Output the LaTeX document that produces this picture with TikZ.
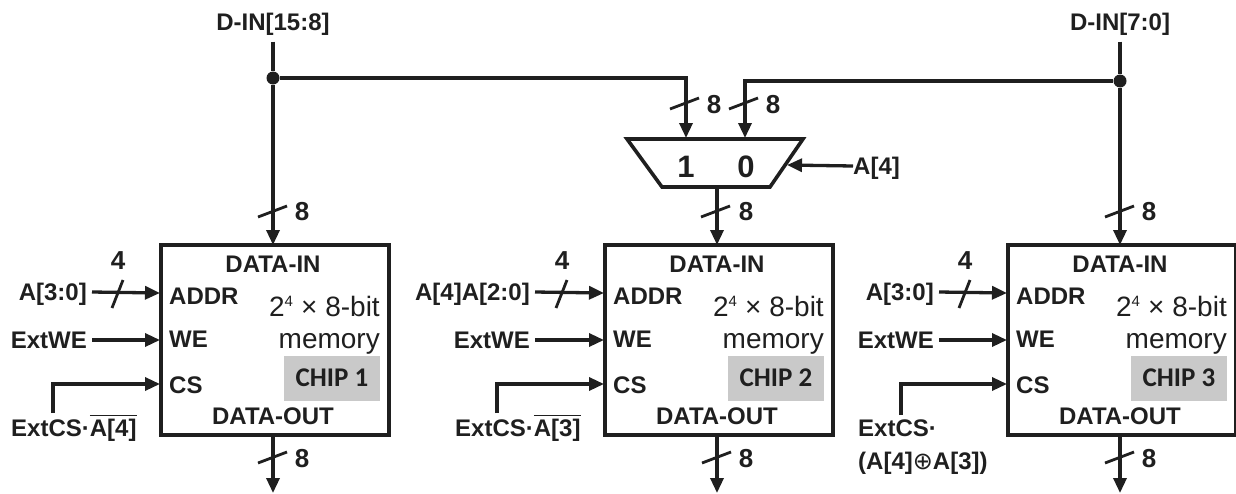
\documentclass[tikz,border=0pt]{standalone}
\usepackage{fontspec}
\setmainfont{Liberation Sans}
\newfontfamily\chipfont{Carlito}
\newfontfamily\symfont{DejaVu Sans}
\usetikzlibrary{arrows.meta}
\colorlet{ink}{black!88}
\tikzset{
  wire/.style={line width=3.3pt,draw=ink,line cap=butt},
  arrowwire/.style={wire,-{Triangle[length=15pt,width=13pt]}},
  slash/.style={line width=2.8pt,draw=ink},
  lab/.style={inner ysep=0pt,inner xsep=0pt,text height=17pt,text depth=0pt,text=ink,font=\fontsize{24}{26}\selectfont\bfseries},
  numlab/.style={lab,font=\fontsize{26}{28}\selectfont\bfseries,text height=18.5pt},
  muxlab/.style={lab,font=\fontsize{31}{33}\selectfont\bfseries,text height=22pt},
  inlab/.style={lab,anchor=east,inner xsep=5pt},
  leftlab/.style={lab,anchor=west},
  thin lab/.style={lab,anchor=east,text height=20pt,font=\fontsize{28}{30}\selectfont},
  chipbox/.style={draw=ink,line width=3.6pt,minimum width=228pt,minimum height=190pt,inner sep=0pt},
  chiptag/.style={fill=black!21,minimum width=96pt,minimum height=45pt,inner sep=0pt,text=ink,font=\fontsize{27}{29}\selectfont\chipfont\bfseries},
  dot/.style={circle,fill=ink,minimum size=13pt,inner sep=0pt},
  muxshape/.style={draw=ink,line width=3.6pt,line join=miter},
}
\begin{document}
\begin{tikzpicture}[x=1pt,y=-1pt]
\useasboundingbox (0,0) rectangle (1236,493);
% chips
\node[chipbox] (chip1) at (275,340) {};
\node[chipbox] (chip2) at (719,340) {};
\node[chipbox] (chip3) at (1122,340) {};
\foreach \n/\dx in {1/0,2/444,3/847}{
  \begin{scope}[xshift=\dx pt]
    \node[lab] (din\n) at (273,264) {DATA-IN};
    \node[lab] (dout\n) at (273,416) {DATA-OUT};
    \node[leftlab] (addr\n) at (169,296) {ADDR};
    \node[leftlab] (we\n) at (169,339) {WE};
    \node[leftlab] (cs\n) at (169,385) {CS};
    \node[thin lab] (size\n) at (380,306) {2\textsuperscript{\fontsize{15}{15}\selectfont 4} × 8-bit};
    \node[thin lab] (mem\n) at (380,338) {memory};
    \node[chiptag] (tag\n) at (332,378) {CHIP \n};
    \node[numlab] (four\n) at (118,260) {4};
    \node[numlab] (eo\n) at (302,458) {8};
    \coordinate (pa\n) at (160,293);
    \coordinate (pw\n) at (160,340);
    \coordinate (pc\n) at (160,384);
    \coordinate (end\n) at (273,493);
    \coordinate (top\n) at (273,245);
    \draw[slash] (258,463) -- (287,452);
    \draw[slash] (112,308) -- (123,280);
  \end{scope}
}
% top labels and junctions
\node[lab] (d158) at (273,22) {D-IN[15:8]};
\node[lab] (d70) at (1120,22) {D-IN[7:0]};
\node[dot] (j1) at (273,78) {};
\node[dot] (j2) at (1120,81) {};
% mux
\coordinate (mtl) at (627,139);
\coordinate (mtr) at (803,139);
\coordinate (mbr) at (770,187);
\coordinate (mbl) at (662,187);
\draw[muxshape] (mtl) -- (mtr) -- (mbr) -- (mbl) -- cycle;
\node[muxlab] (m1) at (686,166) {1};
\node[muxlab] (m0) at (746,166) {0};
\node[lab,anchor=west] (a4) at (853,166) {A[4]};
\coordinate (mi1) at (686,138);
\coordinate (mi0) at (745,138);
\coordinate (a4pin) at (787,165);
\coordinate (muxout) at (717,187);
% bus width labels
\node[numlab] (w1) at (302,211) {8};
\node[numlab] (w2) at (714,104) {8};
\node[numlab] (w3) at (773,104) {8};
\node[numlab] (w4) at (746,211) {8};
\node[numlab] (w5) at (1149,211) {8};
% left inputs
\node[inlab] (a1) at (92,292) {A[3:0]};
\node[inlab] (e1) at (92,340) {ExtWE};
\node[lab,anchor=west] (c1) at (11,428) {ExtCS·$\overline{\mbox{\rule{0pt}{20pt}A[4]}}$};
\node[inlab] (a2) at (535,292) {A[4]A[2:0]};
\node[inlab] (e2) at (535,340) {ExtWE};
\node[lab,anchor=west] (c2) at (455,428) {ExtCS·$\overline{\mbox{\rule{0pt}{20pt}A[3]}}$};
\node[inlab] (a3) at (939,292) {A[3:0]};
\node[inlab] (e3) at (939,340) {ExtWE};
\node[lab,anchor=west] (c3) at (858,428) {ExtCS·};
\node[lab,anchor=west] (c3b) at (858,461) {(A[4]{\symfont\mdseries ⊕}A[3])};
\coordinate (cf1) at (53,413);
\coordinate (cf2) at (497,413);
\coordinate (cf3) at (901,415);
% connectors
\draw[wire,shorten <=11pt] (d158.south) -- (j1);
\draw[wire,shorten <=11pt] (d70.south) -- (j2);
\draw[arrowwire] (j1) -- (top1);
\draw[arrowwire] (j2) -- (top3);
\draw[arrowwire] (j1) -| (mi1);
\draw[arrowwire] (j2) -| (mi0);
\draw[arrowwire] (muxout) -- (top2);
\draw[arrowwire] (a4.west) -- (a4pin);
\foreach \n in {1,2,3}{
  \draw[arrowwire] (a\n.east) -- (pa\n);
  \draw[arrowwire] (e\n.east) -- (pw\n);
  \draw[arrowwire] (cf\n) |- (pc\n);
  \draw[arrowwire] (top\n |- chip\n.south) -- (end\n);
}
% bus slashes
\draw[slash] (258,217) -- (287,206);
\draw[slash] (670,109) -- (699,98);
\draw[slash] (729,109) -- (758,98);
\draw[slash] (701,217) -- (730,206);
\draw[slash] (1105,217) -- (1134,206);
\end{tikzpicture}
\end{document}
